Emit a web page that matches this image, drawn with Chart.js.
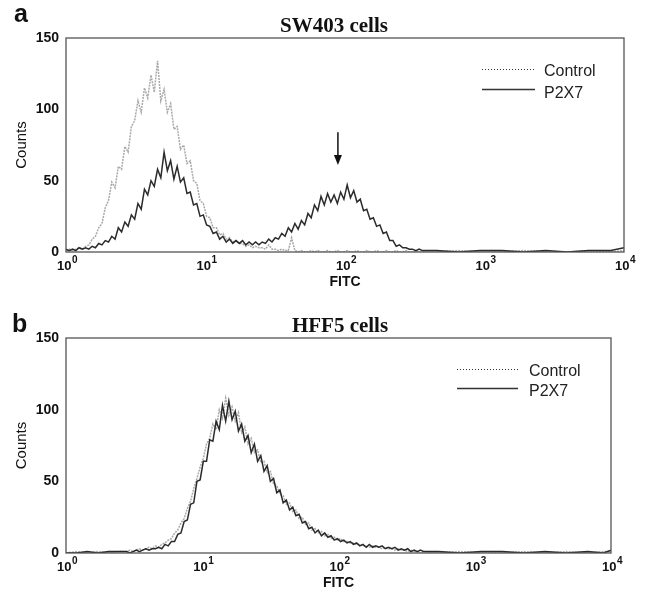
<!DOCTYPE html>
<html>
<head>
<meta charset="utf-8">
<script src="https://cdn.jsdelivr.net/npm/chart.js@4.4.0/dist/chart.umd.min.js"></script>
<style>
  body { margin: 0; background: #fff; }
  .panel { position: absolute; left: 0; width: 653px; }
  #panelA { top: 0; height: 300px; }
  #panelB { top: 300px; height: 301px; }
</style>
</head>
<body>
<div class="panel" id="panelA"><canvas id="chart-a"></canvas></div>
<div class="panel" id="panelB"><canvas id="chart-b"></canvas></div>
<script>
// FITC channel (0-1024 = 4 log decades) and counts
const channelsA = [
  0, 6, 12, 18, 24, 30, 36, 42, 48, 54,
  60, 66, 72, 78, 84, 90, 96, 102, 108, 114,
  120, 126, 132, 138, 144, 150, 156, 162, 168, 174,
  180, 186, 192, 198, 204, 210, 216, 222, 228, 234,
  240, 246, 252, 258, 264, 270, 276, 282, 288, 294,
  300, 306, 312, 318, 324, 330, 336, 342, 348, 354,
  360, 366, 372, 378, 384, 390, 396, 402, 408, 414,
  420, 426, 432, 438, 444, 450, 456, 462, 468, 474,
  480, 486, 492, 498, 504, 510, 516, 522, 528, 534,
  540, 546, 552, 558, 564, 570, 576, 582, 588, 594,
  600, 606, 612, 618, 624, 630, 636, 642, 648, 654,
  680, 720, 760, 800, 840, 880, 920, 960, 1000, 1024
];
// SW403 cells
const p2x7A = [
  2, 1, 2, 1, 3, 2, 3, 2, 4, 3,
  6, 5, 8, 7, 11, 9, 17, 14, 21, 18,
  26, 23, 34, 30, 44, 40, 50, 46, 58, 52,
  70, 57, 64, 51, 60, 49, 52, 41, 42, 33,
  34, 25, 26, 19, 18, 13, 14, 9, 11, 7,
  9, 6, 8, 6, 8, 5, 7, 5, 7, 5,
  7, 6, 9, 7, 10, 9, 13, 11, 17, 14,
  20, 16, 22, 19, 27, 24, 33, 29, 39, 33,
  41, 35, 40, 34, 42, 37, 47, 38, 43, 35,
  37, 29, 30, 23, 24, 18, 19, 13, 14, 8,
  8, 4, 5, 3, 3, 2, 2, 1, 2, 1,
  1, 0, 1, 1, 0, 1, 0, 1, 1, 3
];
const controlA = [
  1, 2, 1, 2, 3, 2, 4, 5, 9, 11,
  17, 20, 31, 36, 49, 45, 60, 58, 74, 70,
  88, 92, 106, 98, 115, 108, 124, 112, 134, 106,
  114, 98, 104, 86, 88, 72, 75, 62, 64, 50,
  48, 36, 34, 25, 24, 17, 17, 12, 13, 9,
  10, 7, 8, 6, 6, 4, 5, 3, 4, 3,
  3, 2, 5, 2, 2, 1, 2, 1, 1, 10,
  1, 0, 1, 0, 0, 1, 0, 1, 0, 0,
  1, 0, 0, 1, 0, 0, 1, 0, 0, 1,
  0, 0, 1, 0, 0, 1, 0, 0, 1, 0,
  0, 1, 0, 0, 1, 0, 0, 1, 0, 0,
  0, 1, 0, 0, 1, 0, 0, 1, 0, 1
];

const channelsB = [
  0, 20, 40, 60, 80, 100,
  114, 120, 126, 132, 138, 144, 150, 156, 162, 168,
  174, 180, 186, 192, 198, 204, 210, 216, 222, 228,
  234, 240, 246, 252, 258, 264, 270, 276, 282, 288,
  294, 300, 306, 312, 318, 324, 330, 336, 342, 348,
  354, 360, 366, 372, 378, 384, 390, 396, 402, 408,
  414, 420, 426, 432, 438, 444, 450, 456, 462, 468,
  474, 480, 486, 492, 498, 504, 510, 516, 522, 528,
  534, 540, 546, 552, 558, 564, 570, 576, 582, 588,
  594, 600, 606, 612, 618, 624, 630, 636, 642, 648,
  654, 660, 666, 672,
  700, 740, 780, 820, 860, 900, 940, 980, 1010, 1024
];
// HFF5 cells
const p2x7B = [
  0, 0, 1, 0, 1, 1,
  1, 0, 1, 2, 1, 2, 3, 2, 3, 3,
  4, 3, 6, 5, 8, 8, 13, 14, 22, 23,
  34, 35, 50, 51, 64, 64, 79, 78, 92, 86,
  103, 92, 106, 93, 99, 85, 90, 78, 82, 70,
  76, 64, 68, 57, 61, 50, 52, 42, 44, 35,
  37, 30, 32, 26, 27, 21, 22, 17, 18, 14,
  16, 12, 14, 11, 12, 9, 10, 8, 9, 7,
  8, 6, 7, 5, 6, 4, 6, 4, 5, 4,
  5, 3, 4, 3, 4, 2, 3, 2, 3, 1,
  2, 1, 2, 1,
  1, 0, 1, 1, 0, 1, 0, 1, 0, 2
];
const controlB = [
  0, 1, 0, 1, 0, 1,
  1, 2, 1, 2, 3, 2, 3, 4, 3, 5,
  4, 6, 7, 9, 10, 14, 16, 21, 24, 31,
  36, 45, 52, 60, 66, 76, 80, 90, 86, 100,
  94, 108, 96, 102, 92, 98, 84, 88, 76, 80,
  70, 72, 63, 64, 56, 57, 48, 47, 41, 40,
  34, 35, 29, 30, 24, 25, 20, 21, 16, 17,
  14, 15, 12, 13, 10, 11, 9, 10, 8, 8,
  7, 7, 6, 6, 5, 5, 4, 5, 4, 4,
  3, 4, 3, 3, 2, 3, 2, 2, 1, 2,
  1, 1, 0, 1,
  0, 1, 0, 0, 1, 0, 1, 0, 1, 1
];

// x tick labels are 10 raised to these exponents
const decadeExps = ['0', '1', '2', '3', '4'];
const countTicks = [0, 50, 100, 150];
// arrow over the second (P2X7 positive) peak in panel a
const arrowA = { channel: 499, from: 84, to: 61 };

const sans = '"Liberation Sans", Arial, Helvetica, sans-serif';
const serif = '"Liberation Serif", "Times New Roman", Times, serif';

// frame, decade labels, titles, panel letter, legend and arrow
const decor = {
  id: 'decor',
  afterDraw(chart, args, o) {
    const ctx = chart.ctx;
    const a = chart.chartArea;
    const xs = chart.scales.x;
    ctx.save();
    ctx.strokeStyle = '#555';
    ctx.lineWidth = 1.3;
    ctx.strokeRect(a.left, a.top, a.right - a.left, a.bottom - a.top);

    // 10^n labels with a real raised exponent
    ctx.fillStyle = '#111';
    ctx.textAlign = 'left';
    ctx.textBaseline = 'alphabetic';
    xs.ticks.forEach((t, i) => {
      const px = xs.getPixelForValue(t.value);
      const exp = decadeExps[i];
      ctx.font = 'bold 13px ' + sans;
      const w1 = ctx.measureText('10').width;
      ctx.font = 'bold 10px ' + sans;
      const w2 = ctx.measureText(exp).width;
      const x0 = px - (w1 + w2) / 2 + 1;
      ctx.font = 'bold 13px ' + sans;
      ctx.fillText('10', x0, a.bottom + 18);
      ctx.font = 'bold 10px ' + sans;
      ctx.fillText(exp, x0 + w1 + 0.5, a.bottom + 11);
    });

    ctx.font = 'bold 21px ' + serif;
    ctx.textAlign = 'center';
    ctx.fillText(o.title, o.titleX, 32);

    ctx.font = 'bold 25px ' + sans;
    ctx.textAlign = 'left';
    ctx.fillText(o.letter, o.letterX, o.letterY);

    // legend
    ctx.strokeStyle = '#333';
    ctx.lineWidth = 1;
    ctx.setLineDash([1, 2]);
    ctx.beginPath();
    ctx.moveTo(o.lx1, 69.5); ctx.lineTo(o.lx2, 69.5);
    ctx.stroke();
    ctx.setLineDash([]);
    ctx.lineWidth = 1.3;
    ctx.beginPath();
    ctx.moveTo(o.lx1, o.ly2); ctx.lineTo(o.lx2, o.ly2);
    ctx.stroke();
    ctx.font = '16px ' + sans;
    ctx.fillStyle = '#222';
    ctx.fillText('Control', o.tx, 76);
    ctx.fillText('P2X7', o.tx, o.ty2);

    if (o.arrow) {
      const x = xs.getPixelForValue(o.arrow.channel);
      const y1 = chart.scales.y.getPixelForValue(o.arrow.from);
      const y2 = chart.scales.y.getPixelForValue(o.arrow.to);
      ctx.strokeStyle = '#111';
      ctx.lineWidth = 1.5;
      ctx.beginPath();
      ctx.moveTo(x, y1); ctx.lineTo(x, y2 - 8);
      ctx.stroke();
      ctx.fillStyle = '#111';
      ctx.beginPath();
      ctx.moveTo(x - 4, y2 - 10); ctx.lineTo(x + 4, y2 - 10); ctx.lineTo(x, y2);
      ctx.closePath();
      ctx.fill();
    }
    ctx.restore();
  }
};

function makeChart(id, channels, p2x7, control, padRight, decorOpts) {
  const points = counts => counts.map((c, i) => ({ x: channels[i], y: c }));
  return new Chart(document.getElementById(id), {
    type: 'line',
    data: {
      datasets: [
        {
          label: 'P2X7',
          data: points(p2x7),
          borderColor: 'rgba(25, 25, 25, 0.92)',
          borderWidth: 1.5,
          pointRadius: 0,
          tension: 0,
          order: 0
        },
        {
          label: 'Control',
          data: points(control),
          borderColor: 'rgba(160, 160, 160, 0.9)',
          borderWidth: 1.5,
          borderDash: [2, 1],
          pointRadius: 0,
          tension: 0,
          order: 1
        }
      ]
    },
    options: {
      responsive: true,
      maintainAspectRatio: false,
      animation: false,
      layout: { padding: { left: 9, right: padRight, top: 38, bottom: 5 } },
      scales: {
        x: {
          type: 'linear',
          min: 0,
          max: 1024,
          afterFit: s => { s.height = 43; },
          grid: { display: false, drawTicks: false },
          border: { display: false },
          ticks: { stepSize: 256, display: false },
          title: {
            display: true,
            text: 'FITC',
            color: '#111',
            font: { family: sans, size: 14, weight: 'bold' },
            padding: { top: 0, bottom: 4 }
          }
        },
        y: {
          min: 0,
          max: 150,
          afterFit: s => { s.width = 57; },
          afterBuildTicks: s => { s.ticks = countTicks.map(v => ({ value: v })); },
          grid: { display: false, drawTicks: false },
          border: { display: false },
          ticks: {
            padding: 7,
            color: '#111',
            font: { family: sans, size: 14, weight: 'bold' }
          },
          title: {
            display: true,
            text: 'Counts',
            color: '#111',
            font: { family: sans, size: 15 },
            padding: { top: 4, bottom: 0 }
          }
        }
      },
      plugins: {
        legend: { display: false },
        tooltip: { enabled: false },
        decor: decorOpts
      }
    },
    plugins: [decor]
  });
}

makeChart('chart-a', channelsA, p2x7A, controlA, 29, {
  title: 'SW403 cells', titleX: 334, letter: 'a', letterX: 14, letterY: 22,
  lx1: 482, lx2: 535, ly2: 89.5, tx: 544, ty2: 98, arrow: arrowA
});
makeChart('chart-b', channelsB, p2x7B, controlB, 42, {
  title: 'HFF5 cells', titleX: 340, letter: 'b', letterX: 12, letterY: 32,
  lx1: 457, lx2: 518, ly2: 88.5, tx: 529, ty2: 96, arrow: null
});
</script>
</body>
</html>
